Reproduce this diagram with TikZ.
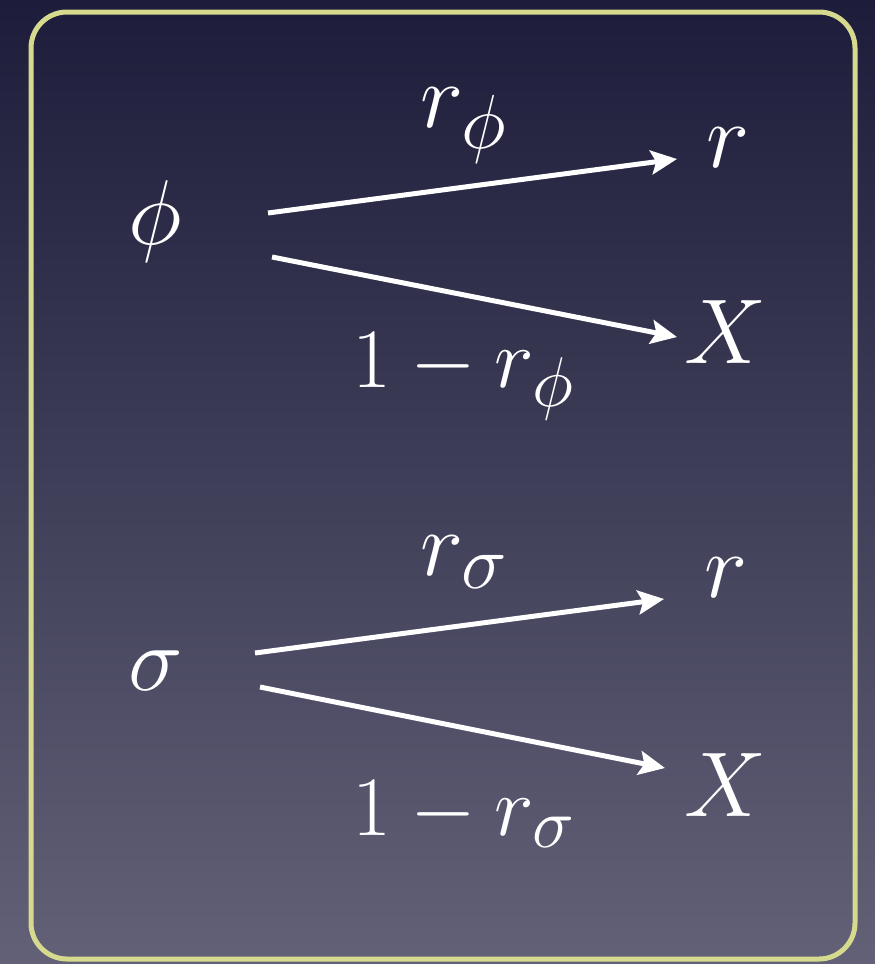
\documentclass[tikz,border=0pt]{standalone}
\usetikzlibrary{arrows.meta}
\definecolor{bgtop}{HTML}{1D1C3A}
\definecolor{bgbot}{HTML}{626177}
\definecolor{frame}{HTML}{D6DA8F}
\tikzset{
  lblbase/.style={text=white, inner sep=0pt, anchor=base west, font=\Huge, transform shape},
  lbl/.style={lblbase, scale=3.7},
  lblsm/.style={lblbase, scale=3.4},
  arr/.style={draw=white, line width=5pt, -{Stealth[length=26pt,width=24pt,inset=5pt]}}
}
\begin{document}
\begin{tikzpicture}[x=1pt,y=-1pt]
\useasboundingbox (0,0) rectangle (875,964);
\shade[top color=bgtop, bottom color=bgbot] (0,0) rectangle (875,964);
\draw[frame, line width=5pt, rounded corners=36pt] (31,12) rectangle (855,959);
% upper group
\node[lbl] (phi) at (128,244) {$\phi$};
\node[lbl] (rphi) at (420,127) {$r_\phi$};
\node[lbl] (r1) at (706,167) {$r$};
\node[lbl] (X1) at (684,363) {$X$};
\node[lblsm] (omrphi) at (352,387) {$1-r_\phi$};
\coordinate (a1s) at (268,213);
\coordinate (a1e) at (677,159);
\coordinate (a2s) at (272,257);
\coordinate (a2e) at (677,337);
\draw[arr] (a1s) -- (a1e);
\draw[arr] (a2s) -- (a2e);
% lower group
\node[lbl] (sigma) at (128,690) {$\sigma$};
\node[lbl] (rsig) at (420,575) {$r_\sigma$};
\node[lbl] (r2) at (704,597) {$r$};
\node[lbl] (X2) at (684,816) {$X$};
\node[lblsm] (omrsig) at (352,835) {$1-r_\sigma$};
\coordinate (b1s) at (255,653);
\coordinate (b1e) at (664,599);
\coordinate (b2s) at (260,687);
\coordinate (b2e) at (665,768);
\draw[arr] (b1s) -- (b1e);
\draw[arr] (b2s) -- (b2e);
\end{tikzpicture}
\end{document}
